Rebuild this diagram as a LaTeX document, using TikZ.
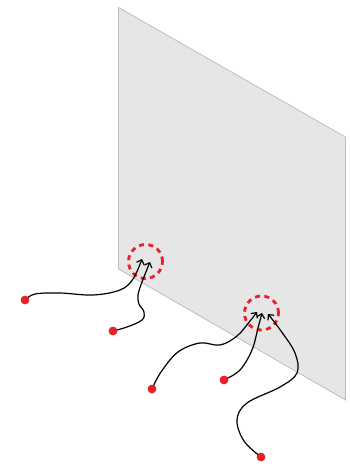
\documentclass[tikz,border=0pt]{standalone}
\usetikzlibrary{positioning, arrows.meta}
\definecolor{ptred}{HTML}{E8202A}
\definecolor{wallgray}{HTML}{E6E6E6}
\definecolor{wallline}{HTML}{BDBDBD}

\begin{document}
\begin{tikzpicture}[x=1pt, y=1pt, inner sep=0pt,
      dot/.style={circle, fill=ptred, minimum size=8.5pt},
      spot/.style={circle, draw=ptred, line width=2.8pt,
        dash pattern=on 5pt off 4.4pt, minimum size=34pt},
      wire/.style={-{Straight Barb[length=4pt, width=8pt]}, line width=1.2pt, black}]
      \useasboundingbox (0,0) rectangle (350,-472);
      % wall;
      \filldraw[fill=wallgray, draw=wallline, line width=0.8pt]
        (118.5,-7.5) -- (345.5,-137) -- (345.5,-400) -- (118.5,-269) -- cycle;
      % spots on the wall;
      \node[spot] (c_1) at (145.5,-261.5) {};
      \node[spot] (c_2) at (261.5,-313) {};
      \coordinate (t_1) at (142,-259);
      \coordinate (t_2) at (150,-262);
      \coordinate (t_3) at (257,-312);
      \coordinate (t_4) at (262,-313);
      \coordinate (t_5) at (268,-314);
      % starting points;
      \node[dot] (p_1) at (25,-300) {};
      \node[dot] (p_2) at (113,-331) {};
      \node[dot] (p_3) at (152,-389) {};
      \node[dot] (p_4) at (224,-380) {};
      \node[dot] (p_5) at (261,-457) {};
      % wires p -> t;
      \draw[wire] plot[smooth, tension=0.6] coordinates
        {(p_1) (35,-294) (60,-293) (93,-295) (120,-290) (133,-279) (t_1)};
      \draw[wire] plot[smooth, tension=0.6] coordinates
        {(p_2) (127,-327) (142,-320) (144,-312) (139,-304) (138,-295) (142,-282) (t_2)};
      \draw[wire] plot[smooth, tension=0.6] coordinates
        {(p_3) (161,-372) (178,-352) (200,-343) (220,-345) (237,-336) (250,-321) (t_3)};
      \draw[wire] plot[smooth, tension=0.6] coordinates
        {(p_4) (240,-370) (252,-350) (258,-328) (t_4)};
      \draw[wire] plot[smooth, tension=0.6] coordinates
        {(p_5) (244,-441) (237,-420) (247,-403) (280,-387) (297,-373) (295,-353) (281,-331) (t_5)};
      % dots on top;
      \foreach \i in {1,...,5} \node[dot] at (p_\i) {};
\end{tikzpicture}
\end{document}
